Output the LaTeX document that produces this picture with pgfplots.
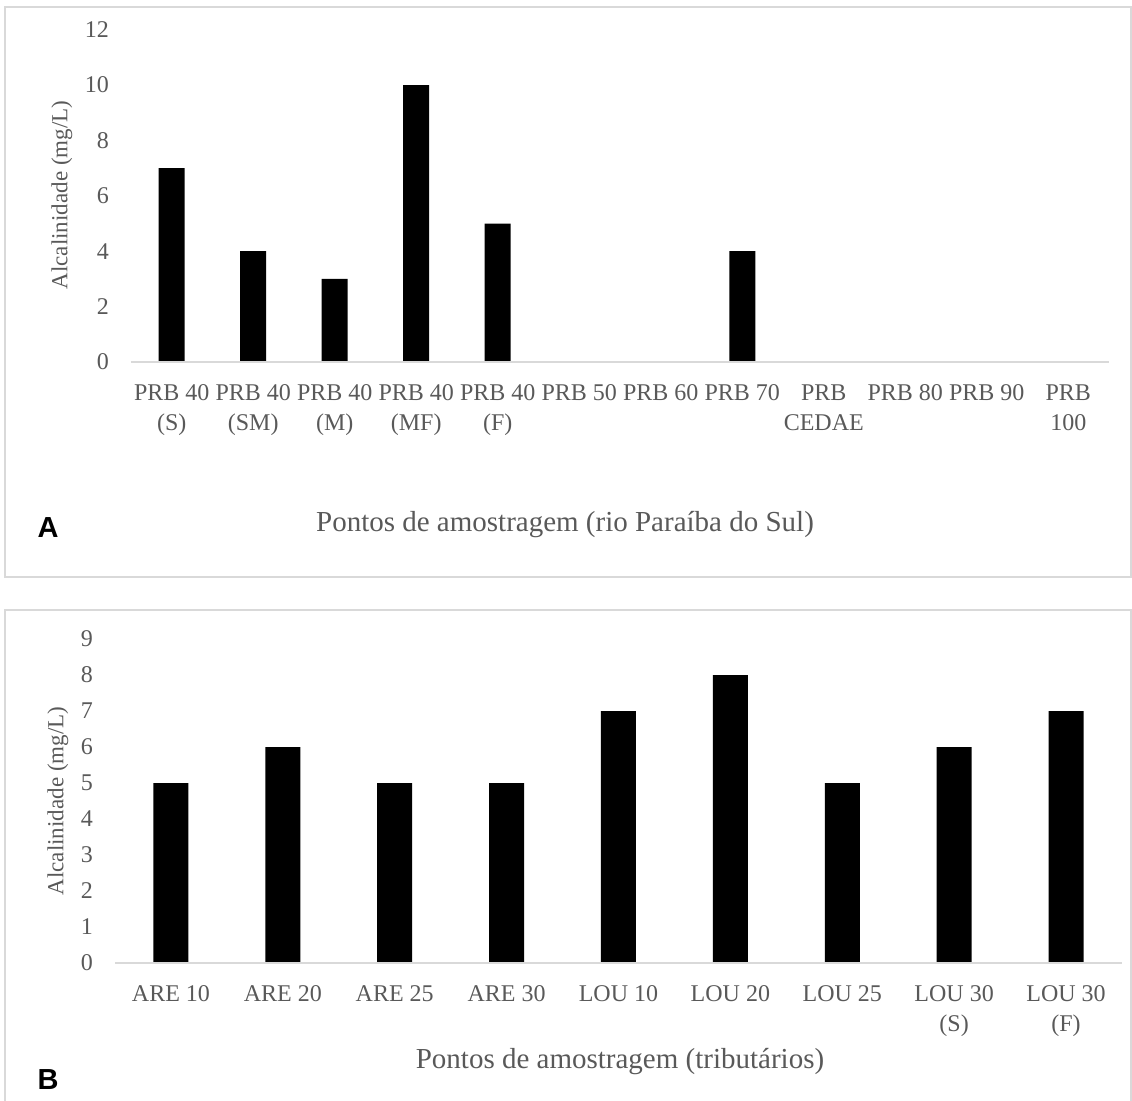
\documentclass[border=0pt]{standalone}
\usepackage{fontspec}
\setmainfont{Liberation Serif}
\newfontfamily\labelfont{Liberation Sans}
\usepackage{pgfplots}
\pgfplotsset{compat=1.18}
\definecolor{txt}{HTML}{595959}
\definecolor{gridc}{HTML}{D9D9D9}

\begin{document}
\begin{tikzpicture}
\useasboundingbox (0,0) rectangle (566pt,-550pt);
\draw[gridc, line width=1pt] (2.5pt,-3.5pt) rectangle (565.5pt,-288.5pt);
\draw[gridc, line width=1pt] (2.5pt,-560pt) -- (2.5pt,-305pt) -- (565.5pt,-305pt) -- (565.5pt,-560pt);

\begin{axis}[
  at={(65.5pt,-181pt)}, anchor=south west,
  scale only axis, width=489pt, height=166.2pt,
  xmin=-0.5, xmax=11.5, ymin=0, ymax=12,
  ybar, bar width=13pt,
  axis line style={draw=none},
  major tick length=0pt,
  xtick={0,...,11},
  xticklabels={{\strut PRB 40\\(S)},{\strut PRB 40\\(SM)},{\strut PRB 40\\(M)},{\strut PRB 40\\(MF)},{\strut PRB 40\\(F)},{\strut PRB 50},{\strut PRB 60},{\strut PRB 70},{\strut PRB\\CEDAE},{\strut PRB 80},{\strut PRB 90},{\strut PRB\\100}},
  ytick={0,2,...,12},
  tick label style={color=txt, font=\fontsize{12}{15}\selectfont},
  /pgf/number format/assume math mode=true,
  yticklabel style={xshift=-7.5pt},
  xticklabel style={align=center, yshift=-5pt},
  clip=false,
]
\addplot[fill=black, draw=none] coordinates {(0,7) (1,4) (2,3) (3,10) (4,5) (5,0) (6,0) (7,4) (8,0) (9,0) (10,0) (11,0)};
\draw[gridc, line width=1pt] (axis cs:-0.5,0) -- (axis cs:11.5,0);
\end{axis}

\begin{axis}[
  at={(57.5pt,-481.5pt)}, anchor=south west,
  scale only axis, width=503.5pt, height=162pt,
  xmin=-0.5, xmax=8.5, ymin=0, ymax=9,
  ybar, bar width=17.5pt,
  axis line style={draw=none},
  major tick length=0pt,
  xtick={0,...,8},
  xticklabels={{\strut ARE 10},{\strut ARE 20},{\strut ARE 25},{\strut ARE 30},{\strut LOU 10},{\strut LOU 20},{\strut LOU 25},{\strut LOU 30\\(S)},{\strut LOU 30\\(F)}},
  ytick={0,...,9},
  tick label style={color=txt, font=\fontsize{12}{15}\selectfont},
  /pgf/number format/assume math mode=true,
  yticklabel style={xshift=-7.5pt},
  xticklabel style={align=center, yshift=-5pt},
  clip=false,
]
\addplot[fill=black, draw=none] coordinates {(0,5) (1,6) (2,5) (3,5) (4,7) (5,8) (6,5) (7,6) (8,7)};
\draw[gridc, line width=1pt] (axis cs:-0.5,0) -- (axis cs:8.5,0);
\end{axis}

\node[rotate=90, text=txt, font=\fontsize{11.5}{14}\selectfont] at (31pt,-97.5pt) {Alcalinidade (mg/L)};
\node[rotate=90, text=txt, font=\fontsize{11.5}{14}\selectfont] at (29pt,-400.5pt) {Alcalinidade (mg/L)};
\node[text=txt, font=\fontsize{14.5}{17}\selectfont] at (282.5pt,-262.5pt) {Pontos de amostragem (rio Paraíba do Sul)};
\node[text=txt, font=\fontsize{14.5}{17}\selectfont] at (310pt,-531pt) {Pontos de amostragem (tributários)};
\node[font=\labelfont\bfseries\fontsize{14.5}{17}\selectfont] at (24pt,-264pt) {A};
\node[font=\labelfont\bfseries\fontsize{14.5}{17}\selectfont] at (24pt,-540pt) {B};
\end{tikzpicture}
\end{document}
